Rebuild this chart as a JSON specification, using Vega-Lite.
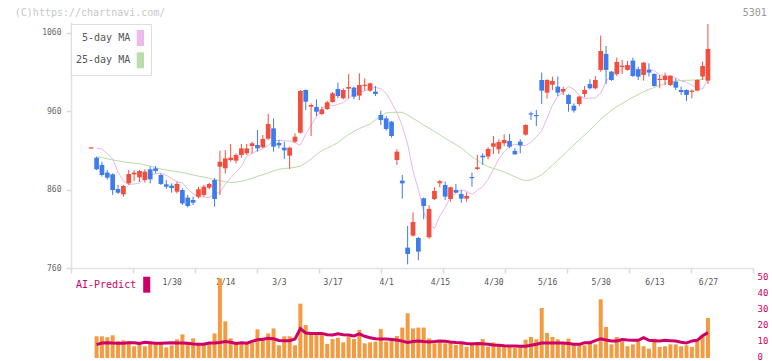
{
"$schema": "https://vega.github.io/schema/vega-lite/v6.json",
"background": "white",
"autosize": {"type": "pad"},
"padding": {"left": 14, "top": 7, "right": 0, "bottom": 0},
"config": {"view": {"stroke": null}, "font": "DejaVu Sans Mono", "axis": {"grid": false, "labelOverlap": false, "labelSeparation": 0}},
"spacing": 1,
"bounds": "flush",
"resolve": {"scale": {"color": "independent"}, "legend": {"color": "independent"}},
"datasets": {"k": [
{"i":-1,"o":912.5,"h":914,"l":912.5,"c":914},
{"i":0,"o":900.8,"h":902,"l":885,"c":886,"v":13.5,"ai":8.3,"m5":913,"m25":902},
{"i":1,"o":891.5,"h":895.7,"l":876.6,"c":878.7,"v":13.5,"ai":9.3,"m5":912,"m25":901},
{"i":2,"o":881.7,"h":885,"l":873,"c":875.3,"v":12.9,"ai":9.5,"m5":906,"m25":899.5},
{"i":3,"o":879.6,"h":880.8,"l":853.2,"c":859.5,"v":14.1,"ai":9.3,"m5":899,"m25":898},
{"i":4,"o":860.8,"h":866,"l":854.4,"c":856.1,"v":10.4,"ai":9.2,"m5":882.5,"m25":896.8},
{"i":5,"o":854,"h":866,"l":851,"c":864.7,"v":11,"ai":9.2,"m5":871.1,"m25":895.6},
{"i":6,"o":868.1,"h":885,"l":866,"c":880,"v":10.4,"ai":9.5,"m5":866.9,"m25":894.5},
{"i":7,"o":879.6,"h":885,"l":871,"c":881.7,"v":7.3,"ai":9.5,"m5":867.1,"m25":893.8},
{"i":8,"o":875.7,"h":885,"l":870,"c":883.8,"v":8.5,"ai":9.0,"m5":868.4,"m25":893.3},
{"i":9,"o":872.3,"h":886,"l":869,"c":883,"v":7.3,"ai":9.8,"m5":873.3,"m25":891.5},
{"i":10,"o":885.9,"h":889.3,"l":868,"c":873.2,"v":10,"ai":9.5,"m5":878.6,"m25":890},
{"i":11,"o":887.2,"h":890.2,"l":880.8,"c":883.8,"v":8.9,"ai":9.2,"m5":880.3,"m25":888},
{"i":12,"o":878.7,"h":880.8,"l":866,"c":867.2,"v":8.9,"ai":9.2,"m5":881.1,"m25":886.4},
{"i":13,"o":866.8,"h":872.3,"l":860.8,"c":863.8,"v":6.6,"ai":9.4,"m5":878.2,"m25":885},
{"i":14,"o":865.1,"h":868.1,"l":856.1,"c":862.1,"v":7.9,"ai":9.5,"m5":874.2,"m25":884},
{"i":15,"o":857.4,"h":870.2,"l":855.3,"c":867.2,"v":11.6,"ai":9.4,"m5":870,"m25":883},
{"i":16,"o":859.5,"h":861.7,"l":840.4,"c":842.5,"v":14.7,"ai":9.3,"m5":868.8,"m25":881.7},
{"i":17,"o":849.8,"h":853.2,"l":837.4,"c":839.1,"v":8.9,"ai":9.1,"m5":860.6,"m25":880.5},
{"i":18,"o":846.8,"h":851,"l":840.4,"c":843.4,"v":12.2,"ai":8.7,"m5":854.9,"m25":878.7},
{"i":19,"o":851,"h":863.8,"l":848.9,"c":860.4,"v":8.9,"ai":8.5,"m5":850.9,"m25":877.2},
{"i":20,"o":853.2,"h":866,"l":851,"c":863.8,"v":8.9,"ai":8.5,"m5":850.7,"m25":876},
{"i":21,"o":862.5,"h":868.9,"l":860.4,"c":867.2,"v":8.9,"ai":9.3,"m5":849.8,"m25":874.5},
{"i":22,"o":872.3,"h":874.5,"l":838.3,"c":848.1,"v":15.3,"ai":9.4,"m5":854.8,"m25":873.2},
{"i":23,"o":889.3,"h":909.8,"l":853.2,"c":895.7,"v":49.5,"ai":9.7,"m5":856.6,"m25":871.5},
{"i":24,"o":887.2,"h":910.6,"l":880.8,"c":900,"v":22.8,"ai":10.2,"m5":867,"m25":870},
{"i":25,"o":897.8,"h":918.3,"l":895.7,"c":900.8,"v":12.2,"ai":9.8,"m5":875,"m25":869.2},
{"i":26,"o":897,"h":906.3,"l":893.6,"c":904.2,"v":9.5,"ai":9.1,"m5":882.4,"m25":869.5},
{"i":27,"o":904.2,"h":918.3,"l":901.2,"c":912.7,"v":8.9,"ai":9.5,"m5":889.8,"m25":870.5},
{"i":28,"o":906.3,"h":918.3,"l":904.2,"c":912.7,"v":8.9,"ai":9.2,"m5":902.7,"m25":872.5},
{"i":29,"o":915.7,"h":921.2,"l":906.3,"c":919.1,"v":9.5,"ai":10.3,"m5":906.1,"m25":874.5},
{"i":30,"o":917,"h":936.1,"l":908.5,"c":912.7,"v":17.8,"ai":11.4,"m5":909.9,"m25":877},
{"i":31,"o":914,"h":929.8,"l":913,"c":924.7,"v":11.4,"ai":11.6,"m5":912.3,"m25":879},
{"i":32,"o":925.1,"h":956.6,"l":923.4,"c":943.8,"v":15.3,"ai":12.2,"m5":916.4,"m25":881.5},
{"i":33,"o":938.3,"h":951,"l":908.5,"c":914.9,"v":18.4,"ai":12,"m5":922.6,"m25":884},
{"i":34,"o":919.6,"h":923.4,"l":912.7,"c":916.6,"v":7.9,"ai":10.9,"m5":923,"m25":886},
{"i":35,"o":913.6,"h":921.2,"l":899.1,"c":910.2,"v":13.5,"ai":10.8,"m5":922.5,"m25":887},
{"i":36,"o":903.4,"h":914.9,"l":886.4,"c":913.6,"v":13.5,"ai":10.8,"m5":922,"m25":887.5},
{"i":37,"o":921.2,"h":931.9,"l":920,"c":927.6,"v":7.9,"ai":11.8,"m5":919.8,"m25":888.5},
{"i":38,"o":932.7,"h":987.2,"l":931.5,"c":985.9,"v":33.8,"ai":18.3,"m5":916.6,"m25":890.2},
{"i":39,"o":987.2,"h":988,"l":961.7,"c":972.3,"v":20.5,"ai":15.5,"m5":930.8,"m25":894},
{"i":40,"o":965.9,"h":970.2,"l":928.5,"c":968.1,"v":15.3,"ai":15.3,"m5":941.9,"m25":899},
{"i":41,"o":965.5,"h":975.3,"l":954,"c":959.5,"v":15.3,"ai":15.3,"m5":953.5,"m25":905},
{"i":42,"o":956.6,"h":965.9,"l":955.3,"c":962.5,"v":15.3,"ai":15.3,"m5":962.7,"m25":910},
{"i":43,"o":962.9,"h":973.6,"l":961.7,"c":971.5,"v":8.7,"ai":14.5,"m5":969.7,"m25":913},
{"i":44,"o":971.9,"h":984.7,"l":971,"c":983,"v":11.8,"ai":14.3,"m5":966.8,"m25":916.5},
{"i":45,"o":988.5,"h":996.6,"l":976.6,"c":979.5,"v":12.6,"ai":15,"m5":968.9,"m25":920},
{"i":46,"o":976.6,"h":989.3,"l":975.3,"c":987.2,"v":9.7,"ai":14.5,"m5":971.2,"m25":925.5},
{"i":47,"o":988.9,"h":1007.6,"l":976.6,"c":991,"v":13.3,"ai":14.3,"m5":976.7,"m25":930.5},
{"i":48,"o":990.2,"h":991.5,"l":975.3,"c":978.7,"v":11.8,"ai":13.7,"m5":982.4,"m25":934.5},
{"i":49,"o":980,"h":1008.5,"l":974.4,"c":993.6,"v":17.4,"ai":15,"m5":983.9,"m25":938},
{"i":50,"o":992.5,"h":1002,"l":986.4,"c":994,"v":9.1,"ai":13.5,"m5":986,"m25":941},
{"i":51,"o":986.4,"h":996.5,"l":985,"c":995.7,"v":9.7,"ai":12.6,"m5":988.9,"m25":943.8},
{"i":52,"o":985.1,"h":992.3,"l":979.5,"c":982.1,"v":10.2,"ai":12,"m5":990.6,"m25":949},
{"i":53,"o":955.3,"h":960.8,"l":942.5,"c":948.9,"v":18,"ai":11.8,"m5":988.8,"m25":954},
{"i":54,"o":951,"h":954,"l":935.3,"c":937.4,"v":10.2,"ai":11.8,"m5":982.9,"m25":958},
{"i":55,"o":946.8,"h":947.5,"l":926.4,"c":928.5,"v":10.8,"ai":11.5,"m5":971.6,"m25":958.7},
{"i":56,"o":897.9,"h":911.5,"l":891.5,"c":908.5,"v":13.7,"ai":11.2,"m5":958.5,"m25":958.8},
{"i":57,"o":871.5,"h":878.8,"l":848.5,"c":868.1,"v":18.9,"ai":10.5,"m5":941.1,"m25":958.7},
{"i":58,"o":786,"h":813.7,"l":764.7,"c":777.9,"v":27.8,"ai":9.7,"m5":918.3,"m25":955.5},
{"i":59,"o":801.3,"h":831.1,"l":800,"c":818.8,"v":18.4,"ai":10.2,"m5":884.1,"m25":951},
{"i":60,"o":798.3,"h":799.5,"l":769.8,"c":780.9,"v":18.9,"ai":10.5,"m5":860.4,"m25":947},
{"i":61,"o":849,"h":850,"l":822.2,"c":839.2,"v":18.9,"ai":10.2,"m5":830.8,"m25":942.5},
{"i":62,"o":799.2,"h":840,"l":797.1,"c":835.4,"v":12.2,"ai":10,"m5":817,"m25":938.5},
{"i":63,"o":848,"h":863,"l":846.9,"c":858.3,"v":9.1,"ai":10.2,"m5":810.4,"m25":934.5},
{"i":64,"o":868.1,"h":872.4,"l":863,"c":870.7,"v":9.7,"ai":10.6,"m5":826.5,"m25":930},
{"i":65,"o":866,"h":870.3,"l":846.9,"c":851.1,"v":9.1,"ai":10.4,"m5":836.9,"m25":925.6},
{"i":66,"o":848.1,"h":864,"l":844.7,"c":863,"v":9.7,"ai":10,"m5":850.9,"m25":921.5},
{"i":67,"o":859.6,"h":867.3,"l":855.4,"c":856.2,"v":8.1,"ai":9.7,"m5":855.7,"m25":917.5},
{"i":68,"o":854.5,"h":859.6,"l":843.4,"c":848.5,"v":8.7,"ai":9.5,"m5":859.9,"m25":913},
{"i":69,"o":848.5,"h":856.6,"l":844.7,"c":851.9,"v":7,"ai":9,"m5":857.9,"m25":907.5},
{"i":70,"o":876.2,"h":881.7,"l":863.9,"c":874.7,"v":9.7,"ai":8.7,"m5":854.1,"m25":902},
{"i":71,"o":886.4,"h":904.3,"l":885.1,"c":888.5,"v":8.1,"ai":9,"m5":859,"m25":897.5},
{"i":72,"o":903.4,"h":906.4,"l":891.5,"c":901.3,"v":11.8,"ai":8.8,"m5":864.1,"m25":893},
{"i":73,"o":902.2,"h":914.1,"l":898.8,"c":912,"v":7,"ai":8.5,"m5":873.1,"m25":889.5},
{"i":74,"o":914.9,"h":928.5,"l":905.6,"c":919.2,"v":9.7,"ai":8.1,"m5":885.8,"m25":887},
{"i":75,"o":911.5,"h":924.3,"l":905.6,"c":920.9,"v":8.1,"ai":8,"m5":899.2,"m25":885},
{"i":76,"o":919.2,"h":930.7,"l":915.8,"c":923.4,"v":8.1,"ai":7.6,"m5":908.4,"m25":882.5},
{"i":77,"o":922.2,"h":931.1,"l":912.8,"c":914.9,"v":7,"ai":7.5,"m5":915.4,"m25":879.5},
{"i":78,"o":909.4,"h":912.8,"l":904.3,"c":905.1,"v":6.4,"ai":7.5,"m5":918.1,"m25":876.5},
{"i":79,"o":921.3,"h":924.3,"l":906.4,"c":916.6,"v":7.9,"ai":7.3,"m5":916.7,"m25":873.5},
{"i":80,"o":930.2,"h":943.5,"l":929,"c":942.6,"v":11.4,"ai":7.3,"m5":916.2,"m25":871.5},
{"i":81,"o":957.3,"h":959.6,"l":949,"c":955.8,"v":13.1,"ai":7.9,"m5":920.5,"m25":872.5},
{"i":82,"o":955.3,"h":961.7,"l":941.3,"c":953.8,"v":11.6,"ai":8.5,"m5":927.1,"m25":875.5},
{"i":83,"o":1000,"h":1009.4,"l":969.4,"c":986.4,"v":31.1,"ai":9.3,"m5":935.1,"m25":879},
{"i":84,"o":983.8,"h":1001,"l":976.2,"c":1000,"v":15.6,"ai":9.3,"m5":951.3,"m25":885},
{"i":85,"o":994,"h":1004.3,"l":987.2,"c":998.7,"v":13.1,"ai":9.3,"m5":968,"m25":891},
{"i":86,"o":991.5,"h":1004.3,"l":979.6,"c":983.8,"v":11.6,"ai":9.3,"m5":979.2,"m25":897.5},
{"i":87,"o":985.1,"h":991.5,"l":980.9,"c":988.5,"v":8.9,"ai":9.3,"m5":984.7,"m25":904},
{"i":88,"o":980.9,"h":982,"l":959.6,"c":969.4,"v":12,"ai":9,"m5":991.5,"m25":910.5},
{"i":89,"o":967.2,"h":970.2,"l":958.3,"c":960.9,"v":8.9,"ai":8.5,"m5":988.1,"m25":917},
{"i":90,"o":969.4,"h":979.6,"l":966.8,"c":978.7,"v":8.9,"ai":8.5,"m5":980.3,"m25":923.5},
{"i":91,"o":982.1,"h":992.3,"l":977.9,"c":987.2,"v":7.9,"ai":9.5,"m5":976.3,"m25":929.8},
{"i":92,"o":994.9,"h":1000.9,"l":988.1,"c":989.4,"v":10.4,"ai":9.5,"m5":976.9,"m25":936},
{"i":93,"o":989.4,"h":1005.1,"l":988.1,"c":1000,"v":8.5,"ai":10.8,"m5":977.1,"m25":943},
{"i":94,"o":1012.8,"h":1056.6,"l":1010.6,"c":1037,"v":36.5,"ai":12,"m5":983.2,"m25":950},
{"i":95,"o":1033.2,"h":1043.4,"l":994.9,"c":1012.8,"v":19.3,"ai":11.2,"m5":998.5,"m25":956},
{"i":96,"o":1010.6,"h":1011.5,"l":998.7,"c":1000,"v":8.5,"ai":10.6,"m5":1005.3,"m25":961},
{"i":97,"o":1007.7,"h":1028.5,"l":1005.1,"c":1023,"v":13.1,"ai":10.6,"m5":1007.8,"m25":966},
{"i":98,"o":1016.6,"h":1025.5,"l":1007.7,"c":1018.3,"v":10.4,"ai":11.5,"m5":1014.6,"m25":970},
{"i":99,"o":1012.8,"h":1024.3,"l":1011.9,"c":1019.2,"v":7.3,"ai":11.2,"m5":1018.2,"m25":974},
{"i":100,"o":1024.7,"h":1028.5,"l":1004,"c":1005.1,"v":8.5,"ai":11,"m5":1014.7,"m25":978},
{"i":101,"o":1013.6,"h":1017,"l":1000,"c":1004.3,"v":10.4,"ai":11,"m5":1013.1,"m25":981.5},
{"i":102,"o":1006.4,"h":1023,"l":999.2,"c":1022.1,"v":7.3,"ai":12.7,"m5":1014,"m25":985},
{"i":103,"o":1012.8,"h":1021.3,"l":1004.3,"c":1009.4,"v":5.8,"ai":11,"m5":1013.8,"m25":988},
{"i":104,"o":1007.7,"h":1008.5,"l":991.5,"c":992.3,"v":12,"ai":10.8,"m5":1012,"m25":990.5},
{"i":105,"o":1000,"h":1006.4,"l":989.4,"c":1001.5,"v":6.9,"ai":10.6,"m5":1006.6,"m25":993},
{"i":106,"o":1000,"h":1009.4,"l":993.6,"c":1005.1,"v":7.3,"ai":11,"m5":1005.8,"m25":995.5},
{"i":107,"o":993.6,"h":1006,"l":992.5,"c":1005.1,"v":8.5,"ai":10.8,"m5":1006,"m25":997.5},
{"i":108,"o":997.9,"h":1002.1,"l":987.2,"c":990.2,"v":8.5,"ai":10.6,"m5":1002.6,"m25":998.7},
{"i":109,"o":987.2,"h":991.5,"l":980.9,"c":984.7,"v":7.3,"ai":9.8,"m5":998.7,"m25":999.3},
{"i":110,"o":987.2,"h":988,"l":973.2,"c":980.9,"v":7.9,"ai":9.3,"m5":997.2,"m25":999.6},
{"i":111,"o":984.7,"h":988.1,"l":976.6,"c":986.2,"v":6.9,"ai":10.6,"m5":993.2,"m25":999.8},
{"i":112,"o":986.4,"h":1000.9,"l":985.5,"c":1000,"v":10.4,"ai":11,"m5":989.3,"m25":1000.3},
{"i":113,"o":1004.3,"h":1023.4,"l":1000,"c":1017.9,"v":14.1,"ai":13.8,"m5":988.3,"m25":1001},
{"i":114,"o":999.2,"h":1071.5,"l":995,"c":1039.6,"v":24.9,"ai":15.8,"m5":1002,"m25":1002}
]},
"vconcat": [
{
 "width": 682, "height": 246,
 "data": {"name": "k"},
 "layer": [
  {
   "transform": [{"fold": ["m5", "m25"], "as": ["s", "m"]}],
   "mark": {"type": "line", "strokeWidth": 1},
   "encoding": {
    "x": {"field": "i", "type": "quantitative", "scale": {"domain": [-4.77, 122.4], "nice": false, "zero": false, "padding": 0},
     "axis": {"values": [-4.77, 6.79, 18.35, 29.91, 41.47, 53.04, 64.6, 76.16, 87.72, 99.28, 110.84, 122.4], "labels": false, "domainColor": "#e2e2e2", "domainWidth": 1.5, "tickColor": "#dadada", "tickSize": 5, "tickWidth": 1.5, "grid": false,
      "title": "5301", "titleX": 695.3, "titleY": -256, "titleAlign": "right", "titleBaseline": "middle", "titleAngle": 0, "titleFont": "DejaVu Sans Mono", "titleFontSize": 10, "titleFontWeight": "normal", "titleColor": "#999999"}},
    "y": {"field": "m", "type": "quantitative", "scale": {"domain": [760, 1074], "nice": false, "zero": false, "padding": 0},
     "axis": {"values": [760, 860, 960, 1060], "format": "d", "domainColor": "#e2e2e2", "domainWidth": 1.5, "tickColor": "#dadada", "tickSize": 5, "tickWidth": 1.5, "labelFont": "DejaVu Sans Mono", "labelFontSize": 8, "labelColor": "#666666", "labelPadding": 5, "grid": false,
      "title": "(C)https://chartnavi.com/", "titleX": -56.7, "titleY": -10, "titleAngle": 0, "titleAlign": "left", "titleBaseline": "middle", "titleFont": "DejaVu Sans Mono", "titleFontSize": 10, "titleFontWeight": "normal", "titleColor": "#c8c8c8"}},
    "color": {"field": "s", "type": "nominal", "scale": {"domain": ["m5", "m25"], "range": ["#e9b6ea", "#b7dca6"]},
     "legend": {"orient": "none", "legendX": 0, "legendY": 2, "title": null, "padding": 5, "fillColor": "white", "strokeColor": "#dddddd",
      "symbolType": "M-0.37,-0.88H0.37V0.88H-0.37Z", "symbolSize": 289, "symbolStrokeColor": "#555555", "symbolStrokeWidth": 1, "symbolOffset": 55.35,
      "labelOffset": -19.15, "labelAlign": "right", "labelFont": "DejaVu Sans Mono", "labelFontSize": 10, "labelColor": "#555555", "rowPadding": 2.3,
      "labelExpr": "datum.value == 'm5' ? '5-day MA' : '25-day MA'",
      "encode": {"symbols": {"update": {"fill": {"signal": "datum.value == 'm5' ? '#eebbee' : '#bbddaa'"}, "stroke": {"value": "#555555"}, "strokeWidth": {"value": 1}, "opacity": {"value": 1}}}}}}
   }
  },
  {
   "mark": {"type": "rule", "strokeWidth": 1},
   "encoding": {
    "x": {"field": "i", "type": "quantitative"},
    "y": {"field": "l", "type": "quantitative"},
    "y2": {"field": "h"},
    "color": {"condition": {"test": "datum.c >= datum.o", "value": "#f24e3e"}, "value": "#3e7bed"}
   }
  },
  {
   "mark": {"type": "bar", "size": 4.7},
   "encoding": {
    "x": {"field": "i", "type": "quantitative"},
    "y": {"field": "o", "type": "quantitative"},
    "y2": {"field": "c"},
    "color": {"condition": {"test": "datum.c >= datum.o", "value": "#f24e3e"}, "value": "#3e7bed"}
   }
  }
 ]
},
{
 "width": 682, "height": 89,
 "data": {"name": "k"},
 "layer": [
  {
   "mark": {"type": "bar", "size": 4, "orient": "vertical", "color": "#f49b42"},
   "encoding": {
    "x": {"field": "i", "type": "quantitative", "scale": {"domain": [-4.77, 122.4], "nice": false, "zero": false, "padding": 0},
     "axis": {"orient": "top", "values": [14, 24, 34, 44, 54, 64, 74, 84, 94, 104, 114], "labelExpr": "['1/30','2/14','3/3','3/17','4/1','4/15','4/30','5/16','5/30','6/13','6/27'][round((datum.value - 14) / 10)]", "domain": false, "ticks": false, "tickSize": 0, "labelPadding": -13, "labelBaseline": "middle", "labelFont": "DejaVu Sans Mono", "labelFontSize": 8, "labelColor": "#555555", "labelFlush": false, "labelOverlap": false, "title": null, "grid": false}},
    "y": {"field": "v", "type": "quantitative", "scale": {"domain": [0, 55.35], "nice": false, "zero": true, "padding": 0},
     "axis": {"orient": "right", "values": [0, 10, 20, 30, 40, 50], "domain": false, "ticks": false, "labelPadding": 4, "labelOffset": -1.5, "labelColor": "#cc0066", "labelFont": "DejaVu Sans Mono", "labelFontSize": 9, "labelFlush": false, "labelOverlap": false, "labelSeparation": 0, "labelBaseline": "middle", "title": null, "grid": false}}
   }
  },
  {
   "mark": {"type": "line", "strokeWidth": 3},
   "encoding": {
    "x": {"field": "i", "type": "quantitative"},
    "y": {"field": "ai", "type": "quantitative",
     "axis": {"orient": "right", "values": [0, 10, 20, 30, 40, 50], "domain": false, "ticks": false, "labelPadding": 4, "labelOffset": -1.5, "labelColor": "#cc0066", "labelFont": "DejaVu Sans Mono", "labelFontSize": 9, "labelFlush": false, "labelOverlap": false, "labelSeparation": 0, "labelBaseline": "middle", "title": null, "grid": false}},
    "color": {"datum": "AI-Predict", "scale": {"range": ["#cc0066"]},
     "legend": {"orient": "none", "legendX": 5, "legendY": 7.7, "title": null, "padding": 0,
      "symbolType": "M-0.44,-1H0.44V1H-0.44Z", "symbolSize": 256, "symbolOffset": 62.7, "labelOffset": -18.5, "labelAlign": "right",
      "labelFont": "DejaVu Sans Mono", "labelFontSize": 10, "labelColor": "#cc0066",
      "encode": {"symbols": {"update": {"fill": {"value": "#cc0066"}, "stroke": {"value": "#cc0066"}, "strokeWidth": {"value": 0}, "opacity": {"value": 1}}}}}}
   }
  }
 ]
}
]
}
